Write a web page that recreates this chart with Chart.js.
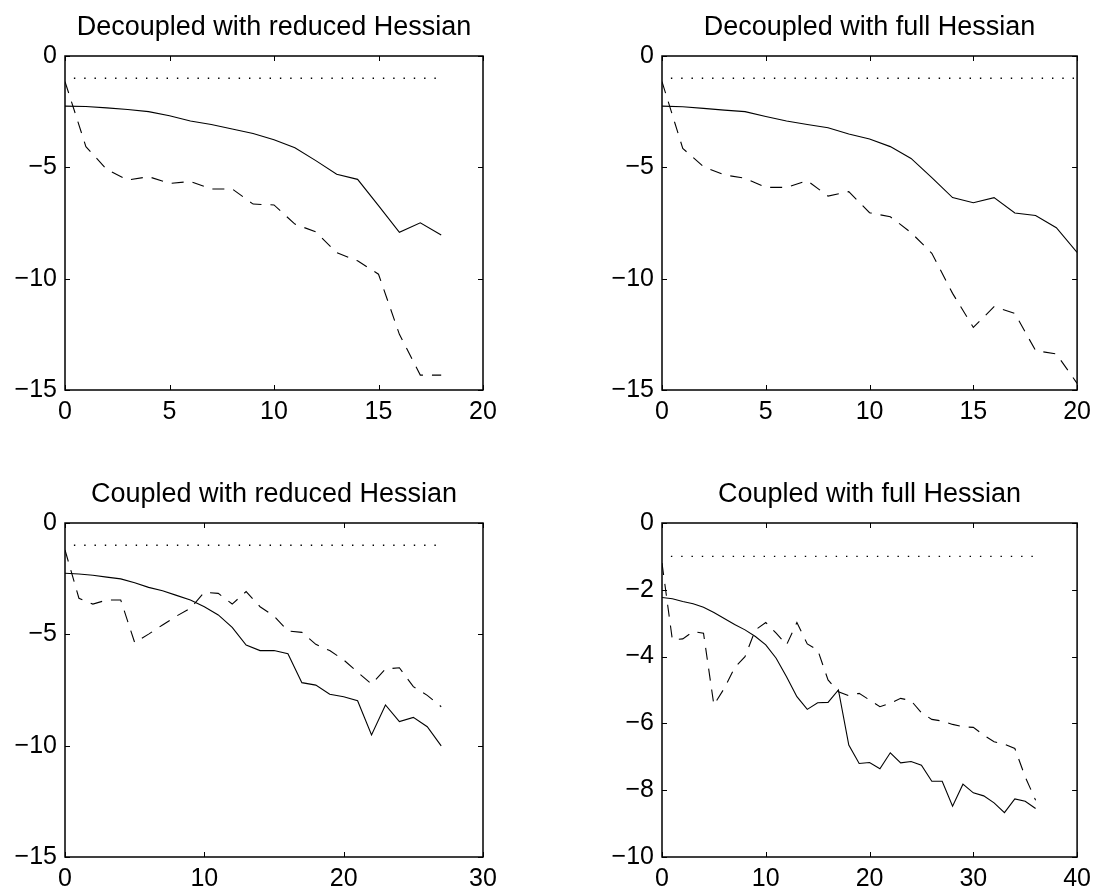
<!DOCTYPE html>
<html>
<head>
<meta charset="utf-8">
<script src="https://cdn.jsdelivr.net/npm/chart.js@4.4.0/dist/chart.umd.min.js"></script>
<style>
html,body{margin:0;padding:0;background:#fff;}
#wrap{position:relative;width:1098px;height:892px;background:#fff;}
canvas{position:absolute;}
</style>
</head>
<body>
<div id="wrap">
<canvas id="c0" width="549" height="446" style="left:0px;top:0px"></canvas>
<canvas id="c1" width="549" height="446" style="left:549px;top:0px"></canvas>
<canvas id="c2" width="549" height="446" style="left:0px;top:446px"></canvas>
<canvas id="c3" width="549" height="446" style="left:549px;top:446px"></canvas>
</div>
<script>
// ---------- titles ----------
const titles = [
  "Decoupled with reduced Hessian",
  "Decoupled with full Hessian",
  "Coupled with reduced Hessian",
  "Coupled with full Hessian"
];

// ---------- tick labels ----------
const xTicksTL = [0, 5, 10, 15, 20];
const yTicksTL = [0, -5, -10, -15];
const xTicksTR = [0, 5, 10, 15, 20];
const yTicksTR = [0, -5, -10, -15];
const xTicksBL = [0, 10, 20, 30];
const yTicksBL = [0, -5, -10, -15];
const xTicksBR = [0, 10, 20, 30, 40];
const yTicksBR = [0, -2, -4, -6, -8, -10];

// ---------- iterations (x) ----------
const iterTL = [0,1,2,3,4,5,6,7,8,9,10,11,12,13,14,15,16,17,18];
const iterTR = [0,1,2,3,4,5,6,7,8,9,10,11,12,13,14,15,16,17,18,19,20];
const iterBL = [0,1,2,3,4,5,6,7,8,9,10,11,12,13,14,15,16,17,18,19,20,21,22,23,24,25,26,27];
const iterBR = [0,1,2,3,4,5,6,7,8,9,10,11,12,13,14,15,16,17,18,19,20,21,22,23,24,25,26,27,28,29,30,31,32,33,34,35,36];

// ---------- series: solid ----------
const solidTL = [-2.25,-2.27,-2.33,-2.40,-2.50,-2.68,-2.92,-3.08,-3.28,-3.48,-3.76,-4.12,-4.70,-5.31,-5.54,-6.72,-7.92,-7.49,-8.04];
const solidTR = [-2.25,-2.28,-2.35,-2.43,-2.50,-2.72,-2.92,-3.08,-3.22,-3.50,-3.73,-4.07,-4.60,-5.46,-6.36,-6.59,-6.36,-7.05,-7.16,-7.71,-8.82];
const solidBL = [-2.26,-2.29,-2.35,-2.43,-2.51,-2.68,-2.89,-3.04,-3.25,-3.46,-3.76,-4.13,-4.69,-5.48,-5.73,-5.73,-5.87,-7.17,-7.28,-7.69,-7.80,-7.98,-9.52,-8.17,-8.92,-8.73,-9.15,-10.01];
const solidBR = [-2.23,-2.27,-2.35,-2.42,-2.52,-2.68,-2.86,-3.04,-3.20,-3.40,-3.65,-4.05,-4.60,-5.20,-5.58,-5.38,-5.37,-5.00,-6.65,-7.20,-7.17,-7.36,-6.88,-7.18,-7.14,-7.25,-7.73,-7.73,-8.48,-7.82,-8.08,-8.17,-8.38,-8.67,-8.26,-8.33,-8.55];

// ---------- series: dashed ----------
const dashTL = [-1.15,-4.07,-5.10,-5.57,-5.42,-5.72,-5.64,-5.97,-5.97,-6.65,-6.69,-7.55,-7.90,-8.83,-9.20,-9.80,-12.50,-14.33,-14.33];
const dashTR = [-1.15,-4.15,-4.97,-5.34,-5.49,-5.90,-5.90,-5.60,-6.29,-6.09,-7.04,-7.22,-7.93,-8.86,-10.66,-12.19,-11.26,-11.56,-13.23,-13.38,-14.70];
const dashBL = [-1.21,-3.38,-3.64,-3.46,-3.46,-5.37,-4.99,-4.58,-4.18,-3.83,-3.11,-3.16,-3.64,-3.08,-3.76,-4.18,-4.85,-4.91,-5.45,-5.73,-6.15,-6.70,-7.23,-6.56,-6.50,-7.35,-7.74,-8.25];
const dashBR = [-1.20,-3.50,-3.47,-3.25,-3.30,-5.45,-4.95,-4.33,-4.00,-3.20,-2.98,-3.30,-3.65,-2.98,-3.62,-3.80,-4.70,-5.05,-5.17,-5.10,-5.30,-5.50,-5.40,-5.25,-5.32,-5.68,-5.88,-5.93,-6.03,-6.10,-6.12,-6.35,-6.55,-6.62,-6.75,-7.60,-8.30];

// ---------- series: dotted reference level ----------
const dotXTL = [0, 18];  const dotYTL = [-1, -1];
const dotXTR = [0, 20];  const dotYTR = [-1, -1];
const dotXBL = [0, 27];  const dotYBL = [-1, -1];
const dotXBR = [0, 36];  const dotYBR = [-1, -1];

// ---------- rendering ----------
const FONT = '"Liberation Sans", Arial, Helvetica, sans-serif';
Chart.defaults.font.family = FONT;
Chart.defaults.color = '#000';

function pts(xs, ys) { return xs.map((x, i) => ({ x: x, y: ys[i] })); }
function fmt(v) { return v < 0 ? '\u2212' + Math.abs(v) : String(v); }

const framePlugin = {
  id: 'frame',
  afterDatasetsDraw(chart, args, opts) {
    const ctx = chart.ctx, a = chart.chartArea, sx = chart.scales.x, sy = chart.scales.y;
    ctx.save();
    ctx.strokeStyle = '#000';
    ctx.lineWidth = 1;
    const L = 5;
    ctx.beginPath();
    sx.ticks.forEach(t => {
      const px = Math.round(sx.getPixelForValue(t.value)) + 0.5;
      ctx.moveTo(px, a.bottom); ctx.lineTo(px, a.bottom - L);
      ctx.moveTo(px, a.top); ctx.lineTo(px, a.top + L);
    });
    sy.ticks.forEach(t => {
      const py = Math.round(sy.getPixelForValue(t.value)) + 0.5;
      ctx.moveTo(a.left, py); ctx.lineTo(a.left + L, py);
      ctx.moveTo(a.right, py); ctx.lineTo(a.right - L, py);
    });
    ctx.stroke();
    ctx.lineWidth = 1.5;
    ctx.strokeRect(a.left, a.top, a.right - a.left, a.bottom - a.top);
    ctx.font = '27px ' + FONT;
    ctx.fillStyle = '#000';
    ctx.textAlign = 'center';
    ctx.textBaseline = 'alphabetic';
    ctx.fillText(opts.text, (a.left + a.right) / 2, a.top - 21);
    ctx.restore();
  }
};

function makeChart(id, title, xs, solid, dash, dotX, dotY, xT, yT, pad) {
  const xStep = xT[1] - xT[0];
  const yStep = Math.abs(yT[1] - yT[0]);
  new Chart(document.getElementById(id), {
    type: 'line',
    data: {
      datasets: [
        { data: pts(dotX, dotY), borderColor: '#000', borderWidth: 1.4, borderDash: [1.4, 8.9], borderDashOffset: 1.4, pointRadius: 0, tension: 0, fill: false },
        { data: pts(xs, dash), borderColor: '#000', borderWidth: 1.1, borderDash: [12, 9], pointRadius: 0, tension: 0, fill: false },
        { data: pts(xs, solid), borderColor: '#000', borderWidth: 1.1, pointRadius: 0, tension: 0, fill: false }
      ]
    },
    options: {
      responsive: false,
      animation: false,
      devicePixelRatio: 1,
      events: [],
      layout: { padding: pad },
      plugins: { legend: { display: false }, tooltip: { enabled: false }, title: { display: false }, frame: { text: title } },
      scales: {
        x: {
          type: 'linear',
          min: Math.min(...xT), max: Math.max(...xT),
          ticks: { stepSize: xStep, padding: 7, maxRotation: 0, font: { size: 25, family: FONT }, color: '#000', callback: v => fmt(v) },
          grid: { display: false, drawTicks: false },
          border: { display: false },
          afterFit(s) { s.height = 35; }
        },
        y: {
          type: 'linear',
          min: Math.min(...yT), max: Math.max(...yT),
          ticks: { stepSize: yStep, padding: 8, font: { size: 25, family: FONT }, color: '#000', callback: v => fmt(v) },
          grid: { display: false, drawTicks: false },
          border: { display: false },
          afterFit(s) { s.width = 65; }
        }
      }
    },
    plugins: [framePlugin]
  });
}

makeChart('c0', titles[0], iterTL, solidTL, dashTL, dotXTL, dotYTL, xTicksTL, yTicksTL, { left: 0, right: 66, top: 56, bottom: 21 });
makeChart('c1', titles[1], iterTR, solidTR, dashTR, dotXTR, dotYTR, xTicksTR, yTicksTR, { left: 48, right: 18, top: 56, bottom: 21 });
makeChart('c2', titles[2], iterBL, solidBL, dashBL, dotXBL, dotYBL, xTicksBL, yTicksBL, { left: 0, right: 66, top: 77, bottom: 0 });
makeChart('c3', titles[3], iterBR, solidBR, dashBR, dotXBR, dotYBR, xTicksBR, yTicksBR, { left: 48, right: 18, top: 77, bottom: 0 });
</script>
</body>
</html>
